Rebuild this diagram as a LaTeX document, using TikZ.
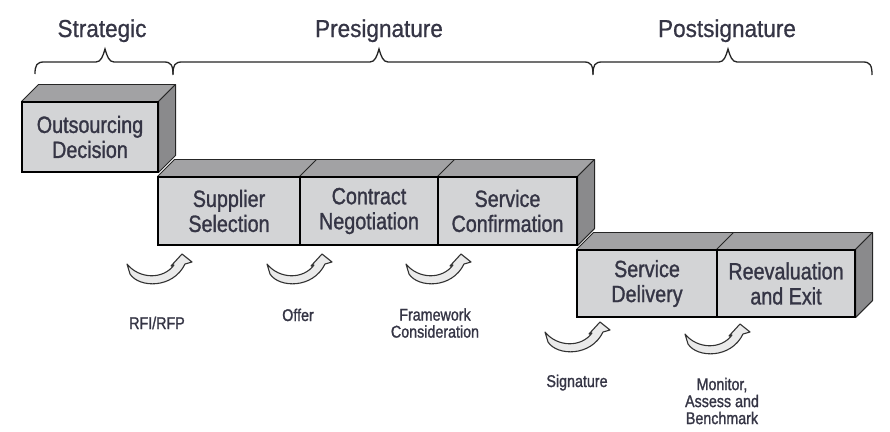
\documentclass[tikz,border=0pt]{standalone}
\usepackage{fontspec}
\setmainfont[FakeStretch=0.84,FakeBold=1.2]{Liberation Sans}
\newfontfamily\hdrfont[FakeStretch=0.92,FakeBold=0.8]{Liberation Sans}
\definecolor{frontc}{HTML}{D3D4D6}
\definecolor{topc}{HTML}{A2A2A4}
\definecolor{sidec}{HTML}{8A8A8C}
\definecolor{txtc}{HTML}{353545}
\definecolor{arrc}{HTML}{EAEAEA}
\tikzset{
 boxface/.style={draw=black, line width=1.1pt, fill=frontc, text=txtc, align=center, inner sep=0pt, font=\fontsize{23.5}{25}\selectfont},
 topface/.style={draw=black!85, line width=0.9pt, fill=topc, line join=round},
 sideface/.style={draw=black!85, line width=0.9pt, fill=sidec, line join=round},
 lbl/.style={text=txtc, align=center, font=\fontsize{17}{17}\selectfont, inner sep=0pt},
 hdr/.style={text=txtc, font=\hdrfont\fontsize{24.5}{28}\selectfont, inner sep=0pt, anchor=base},
 bracepath/.style={draw=black!85, line width=1.3pt},
 uarr/.pic={\filldraw[fill=arrc, draw=black!80, line width=1.1pt, line join=round]
   (0,0) .. controls (12,15) and (36,16) .. (47,1) -- (44,2) -- (55,-10) -- (65,-2) -- (58,0)
   .. controls (46,25) and (12,24) .. (3,10) -- cycle;}
}
\newcommand\boxcube[6]{%
 \node[boxface, minimum width=#4pt, minimum height=#5pt] (#1) at (#2,#3) {#6};
 \filldraw[topface] (#1.north west) -- ++(17,-17) -- ([shift={(17,-17)}]#1.north east) -- (#1.north east) -- cycle;
 \filldraw[sideface] (#1.north east) -- ++(17,-17) -- ([shift={(17,-17)}]#1.south east) -- (#1.south east) -- cycle;
 \draw[line width=1.1pt] (#1.north west) rectangle (#1.south east);
}
\newcommand\hbrace[3]{%
 \draw[bracepath] (#1,74) .. controls (#1,65) and (#1+2,62) .. (#1+9,62) -- (#2-9,62)
   .. controls (#2-4,62) and (#2-2,56) .. (#2,49) .. controls (#2+2,56) and (#2+4,62) .. (#2+9,62)
   -- (#3-9,62) .. controls (#3-2,62) and (#3,65) .. (#3,75);
}
\begin{document}
\begin{tikzpicture}[x=1pt,y=-1pt]
\useasboundingbox[fill=white] (0,0) rectangle (890,431);
% headers
\node[hdr] (hs) at (102,37) {Strategic};
\node[hdr] (hp) at (379,37) {Presignature};
\node[hdr] (hq) at (727,37) {Postsignature};
\hbrace{35}{105}{173}
\hbrace{173}{379}{593}
\hbrace{593}{728}{872}
% boxes
\boxcube{od}{90}{137}{136}{70}{Outsourcing\\Decision}
\boxcube{ss}{229}{211}{142}{68}{Supplier\\Selection}
\boxcube{cn}{369}{211}{138}{68}{Contract\\Negotiation}
\boxcube{sc}{507.5}{211}{139}{68}{Service\\Confirmation}
\boxcube{sd}{647}{283.5}{140}{67}{Service\\Delivery}
\boxcube{re}{786}{283.5}{138}{67}{Reevaluation\\and Exit}
% curved arrows
\pic at (127,264) {uarr};
\pic at (267,264) {uarr};
\pic at (406,264) {uarr};
\pic at (545,332) {uarr};
\pic at (685,334) {uarr};
% labels
\node[lbl, anchor=base] (l1) at (157,329) {RFI/RFP};
\node[lbl, anchor=base] (l2) at (298,321) {Offer};
\node[lbl] (l3) at (435,323) {Framework\\Consideration};
\node[lbl, anchor=base] (l4) at (577,387) {Signature};
\node[lbl] (l5) at (722,401) {Monitor,\\Assess and\\Benchmark};
\end{tikzpicture}
\end{document}
